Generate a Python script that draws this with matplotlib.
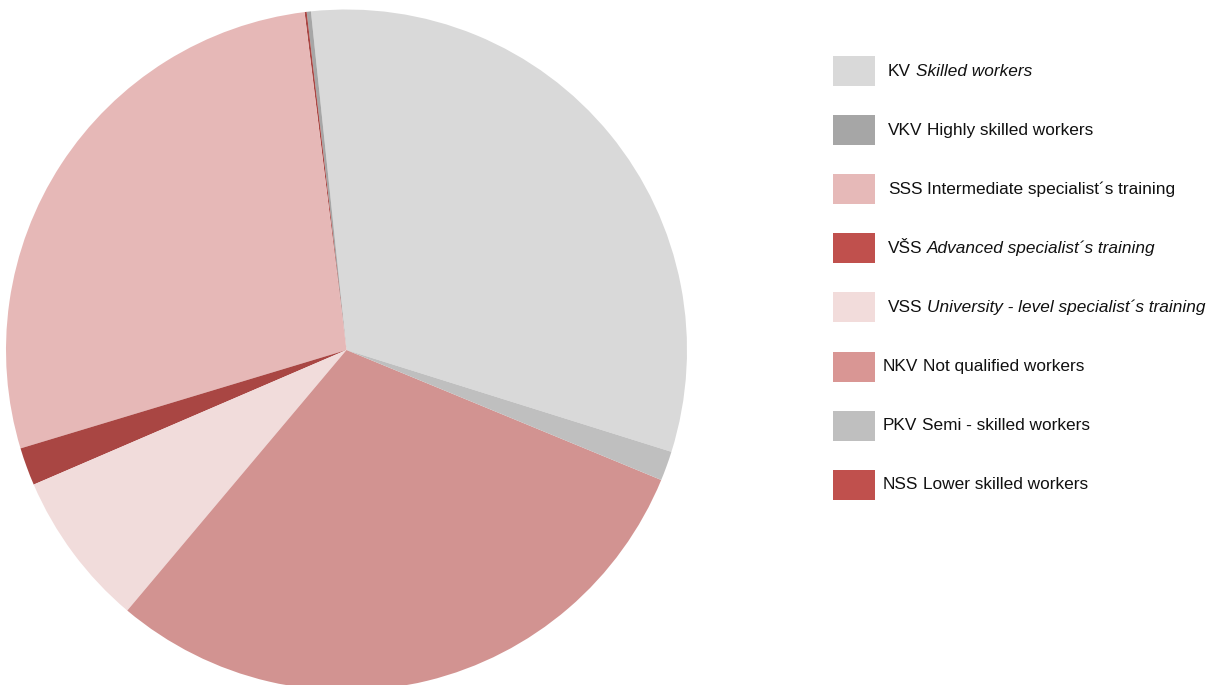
import matplotlib
matplotlib.use("Agg")
import matplotlib.pyplot as plt
from matplotlib import font_manager
from matplotlib.patches import Rectangle

# legend order
codes = ["KV", "VKV", "SSS", "VŠS", "VSS", "NKV", "PKV", "NSS"]
names = ["Skilled workers", "Highly skilled workers", "Intermediate specialist´s training",
         "Advanced specialist´s training", "University - level specialist´s training",
         "Not qualified workers", "Semi - skilled workers", "Lower skilled workers"]
italic = [True, False, False, True, True, False, False, False]
shares = [31.5, 0.2, 27.7, 1.8, 7.4, 29.9, 1.4, 0.1]
legend_colors = ["#d9d9d9", "#a6a6a6", "#e6b9b8", "#c0504d", "#f2dcdb", "#d99694", "#bfbfbf", "#c0504d"]
pie_colors = ["#d9d9d9", "#a6a6a6", "#e6b8b7", "#a94643", "#f1dcdb", "#d29391", "#bfbfbf", "#a94643"]
# order of slices going round the pie
wedge_order = ["KV", "VKV", "NSS", "SSS", "VŠS", "VSS", "NKV", "PKV"]

plt.rcParams["font.family"] = ["Liberation Sans", "DejaVu Sans"]

W, H = 1213, 685
fig = plt.figure(figsize=(W / 100, H / 100), dpi=100)

cx, cy, r = 346.5, 350, 340.5
ax = fig.add_axes([(cx - r) / W, (H - cy - r) / H, 2 * r / W, 2 * r / H])
idx = [codes.index(c) for c in wedge_order]
ax.pie([shares[i] for i in idx], colors=[pie_colors[i] for i in idx],
       startangle=-17.4, counterclock=True, radius=1,
       wedgeprops=dict(linewidth=0))
ax.set_xlim(-1, 1)
ax.set_ylim(-1, 1)
ax.axis("off")

renderer = fig.canvas.get_renderer()
fs = 12.4
sp = fig.text(0, 0, "a a", fontsize=fs).get_window_extent(renderer).width - \
    fig.text(0, 0, "aa", fontsize=fs).get_window_extent(renderer).width
for tt in list(fig.texts):
    tt.remove()

for i, code in enumerate(codes):
    yc = 71 + 59.1 * i
    fig.patches.append(Rectangle((833 / W, 1 - (yc + 15) / H), 42 / W, 30 / H,
                                 transform=fig.transFigure, color=legend_colors[i], lw=0))
    x0 = 888 if i < 5 else 883
    t = fig.text(x0 / W, 1 - yc / H, code, fontsize=fs, va="center", ha="left", color="#111111")
    bb = t.get_window_extent(renderer)
    fig.text((bb.x1 + sp) / W, 1 - yc / H, names[i], fontsize=fs, va="center", ha="left",
             style="italic" if italic[i] else "normal", color="#111111")

fig.savefig("out.png", dpi=100)
